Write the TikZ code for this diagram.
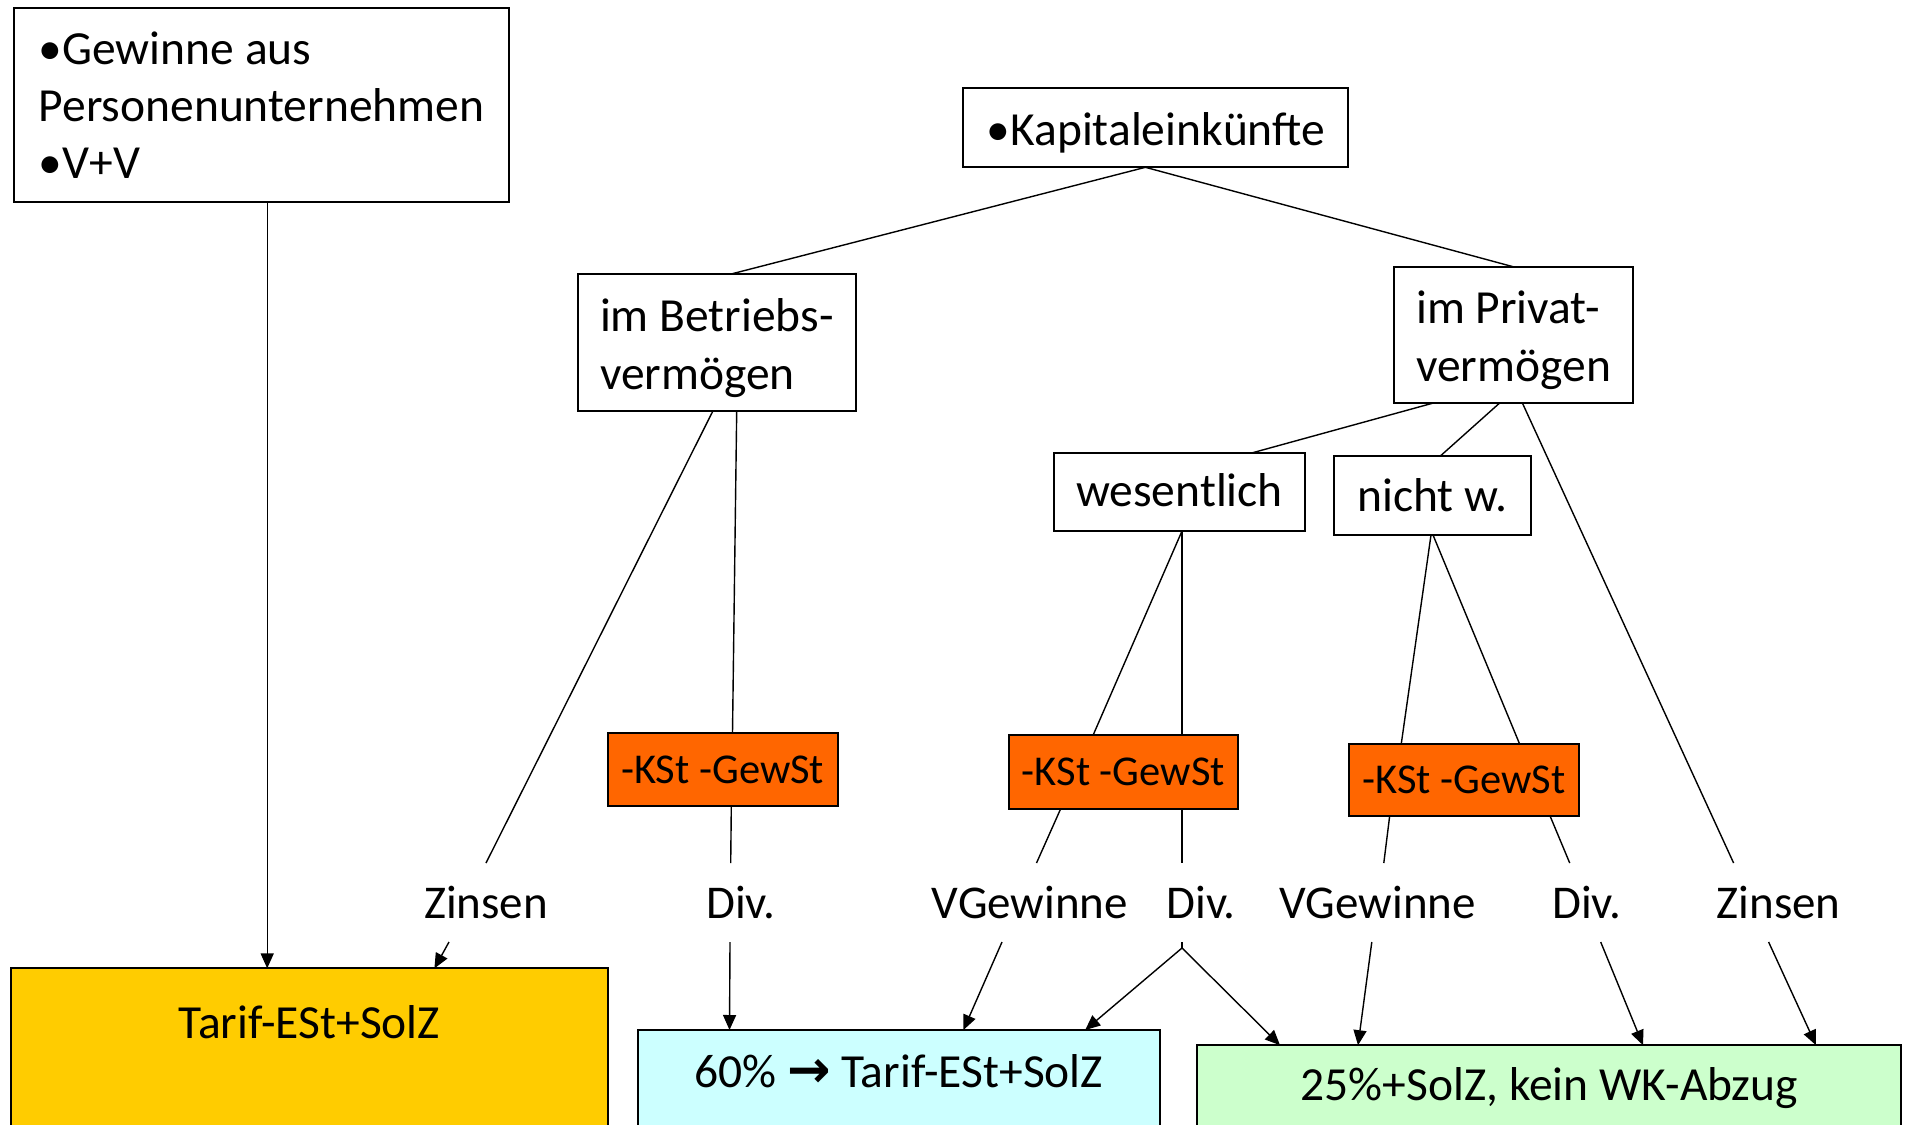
\documentclass[tikz,border=0pt]{standalone}
\usepackage{fontspec}
\setmainfont{Carlito}
\newfontfamily\arrowfont{DejaVu Sans}
\usetikzlibrary{arrows.meta}
\definecolor{tarifyellow}{HTML}{FFCC00}
\definecolor{kstorange}{HTML}{FF6600}
\definecolor{cyanfill}{HTML}{CCFFFF}
\definecolor{greenfill}{HTML}{CCFFCC}
\begin{document}
\begin{tikzpicture}[x=1pt,y=-1pt,
  box/.style={draw=black, line width=2pt, inner sep=0pt, outer sep=0pt, anchor=north west,
    font=\fontsize{47.5}{58}\selectfont, text=black},
  kst/.style={box, fill=kstorange, font=\fontsize{42.5}{50}\selectfont},
  lbl/.style={inner sep=0pt, outer sep=0pt, anchor=base, font=\fontsize{47}{56}\selectfont,
    text height=55.5pt, text depth=23.5pt},
  con/.style={line width=1.4pt},
  arr/.style={con, -{Triangle[length=15pt,width=13pt]}},
]
\path[use as bounding box] (0,0) rectangle (1905,1124);
\clip (0,0) rectangle (1905,1124);
\fill[white] (0,0) rectangle (1905,1124);

% boxes
\node[box, minimum width=495pt, minimum height=193.5pt, align=left,
  font=\fontsize{47.5}{57}\selectfont] (A) at (14,8) {•Gewinne aus\\Personenunternehmen\\•V+V};
\node[box, minimum width=385pt, text height=57pt, text depth=22.3pt] (K) at (963.4,88) {•Kapitaleinkünfte};
\node[box, minimum width=277.7pt, minimum height=136.5pt, align=left] (B) at (578,274.3) {\rule{0pt}{45pt}im Betriebs-\\vermögen};
\node[box, minimum width=239pt, minimum height=136.6pt, align=left] (P) at (1394,266.7) {\rule{0pt}{43pt}im Privat-\\vermögen};
\node[box, minimum width=251pt, text height=54pt, text depth=24.3pt] (W) at (1054,452.7) {wesentlich};
\node[box, minimum width=196.5pt, text height=56.2pt, text depth=23.3pt] (N) at (1334,455.5) {nicht w.};
\node[kst, minimum width=230pt, text height=50.3pt, text depth=23pt] (K1) at (607.7,732.7) {-KSt -GewSt};
\node[kst, minimum width=229.5pt, text height=50.3pt, text depth=22.8pt] (K2) at (1008.5,735.4) {-KSt -GewSt};
\node[kst, minimum width=229.5pt, text height=50.3pt, text depth=21.8pt] (K3) at (1349,743.5) {-KSt -GewSt};

\node[box, fill=tarifyellow, minimum width=596.7pt, text height=70.2pt, text depth=101.6pt] (T) at (11,968.4) {Tarif-ESt+SolZ};
\node[box, fill=cyanfill, minimum width=521.5pt, text height=57pt, text depth=53pt] (C) at (638,1030) {60\% {\arrowfont\bfseries\fontsize{52}{58}\selectfont →} Tarif-ESt+SolZ};
\node[box, fill=greenfill, minimum width=703.7pt, text height=54.8pt, text depth=40pt] (G) at (1197.3,1045.2) {25\%+SolZ, kein WK-Abzug};

% labels
\node[lbl] (Z1) at (486,918.5) {Zinsen};
\node[lbl] (D1) at (740.7,918.5) {Div.};
\node[lbl] (V1) at (1030,918.5) {VGewinne};
\node[lbl] (D2) at (1201,918.5) {Div.};
\node[lbl] (V2) at (1377.8,918.5) {VGewinne};
\node[lbl] (D3) at (1586.7,918.5) {Div.};
\node[lbl] (Z2) at (1778.6,918.5) {Zinsen};

% connectors
\draw[arr] ([xshift=253.2pt]A.south west) -- ([xshift=256.2pt]T.north west);
\draw[con] ([xshift=182pt]K.south west) -- ([xshift=152pt]B.north west);
\draw[con] ([xshift=182pt]K.south west) -- ([xshift=119pt]P.north west);
\draw[con] ([xshift=135pt]B.south west) -- (Z1.north);
\draw[con] ([xshift=158.7pt]B.south west) -- ([xshift=124.8pt]K1.north west);
\draw[con] ([xshift=123.6pt]K1.south west) -- ([xshift=-10pt]D1.north);
\draw[arr] ([xshift=-37pt]Z1.south) -- ([xshift=423.4pt]T.north west);
\draw[arr] ([xshift=-10.7pt]D1.south) -- ([xshift=91.5pt]C.north west);
\draw[con] ([xshift=38.3pt]P.south west) -- ([xshift=198.7pt]W.north west);
\draw[con] ([xshift=105.3pt]P.south west) -- ([xshift=106.9pt]N.north west);
\draw[con] ([xshift=128.5pt]P.south west) -- ([xshift=-45pt]Z2.north);
\draw[con] ([xshift=128pt]W.south west) -- ([xshift=84.5pt]K2.north west);
\draw[con] ([xshift=128pt]W.south west) -- ([xshift=173.5pt]K2.north west);
\draw[con] ([xshift=52.3pt]K2.south west) -- ([xshift=6.5pt]V1.north);
\draw[con] ([xshift=173.5pt]K2.south west) -- ([xshift=-19pt]D2.north);
\draw[con] ([xshift=97pt]N.south west) -- ([xshift=52.3pt]K3.north west);
\draw[con] ([xshift=99pt]N.south west) -- ([xshift=170.4pt]K3.north west);
\draw[con] ([xshift=40.7pt]K3.south west) -- ([xshift=6pt]V2.north);
\draw[con] ([xshift=200.9pt]K3.south west) -- ([xshift=-17pt]D3.north);
\draw[arr] ([xshift=-28pt]V1.south) -- ([xshift=325.4pt]C.north west);
\coordinate (fork) at (1182,948);
\draw[con] ([xshift=-19pt]D2.south) -- (fork);
\draw[arr] (fork) -- ([xshift=447.2pt]C.north west);
\draw[arr] (fork) -- ([xshift=82.7pt]G.north west);
\draw[arr] ([xshift=-6pt]V2.south) -- ([xshift=160.7pt]G.north west);
\draw[arr] ([xshift=14pt]D3.south) -- ([xshift=445.7pt]G.north west);
\draw[arr] ([xshift=-10pt]Z2.south) -- ([xshift=618.7pt]G.north west);
\end{tikzpicture}
\end{document}
